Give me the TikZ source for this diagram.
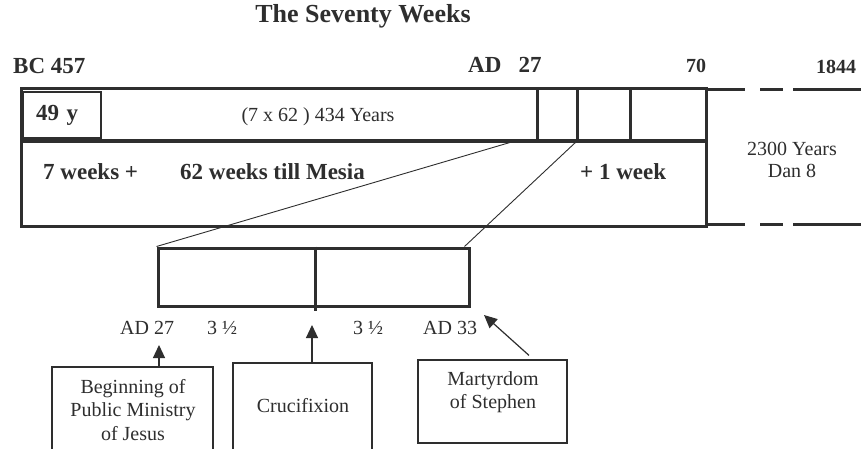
\documentclass[tikz,border=0pt]{standalone}
\usepackage{fontspec}
\setmainfont{Liberation Serif}
\usepackage{tikz}
\usetikzlibrary{positioning}
\usetikzlibrary{arrows.meta}

\definecolor{ink}{HTML}{2E2E2E}
\newcommand{\lbltitle}{\fontsize{26}{30}\selectfont\bfseries}
\newcommand{\lblbold}{\fontsize{23}{27}\selectfont\bfseries}
\newcommand{\lblsmallbold}{\fontsize{20}{24}\selectfont\bfseries}
\newcommand{\lblplain}{\fontsize{20}{23.5}\selectfont}

\begin{document}
\begin{tikzpicture}[x=1pt, y=-1pt,
    bar/.style = {draw=ink, line width=3pt},
    thin/.style = {draw=ink, line width=0.9pt},
    evbox/.style = {draw=ink, line width=1.2pt, inner sep=0pt},
    lbl/.style = {font=\lblplain, text=ink, inner sep=0pt},
    blbl/.style = {font=\lblbold, text=ink, inner sep=0pt},
    pointer/.style = {draw=ink, line width=1.2pt, -{Triangle[length=13pt,width=12pt]}}]

  \useasboundingbox[fill=white] (0,0) rectangle (861,448);

  % title and dates
  \node[font=\lbltitle, text=ink, inner sep=0pt, anchor=base](title) at (363,22){The Seventy Weeks};
  \node[blbl, anchor=base west](bc457) at (13,73){BC 457};
  \node[blbl, anchor=base west](ad27) at (468,72){AD\ \ \ 27};
  \node[blbl, font=\lblsmallbold, anchor=base](ad70) at (696,72){70};
  \node[blbl, font=\lblsmallbold, anchor=base](ad1844) at (836,73){1844};

  % the seventy weeks bar
  \draw[bar] (21,88) rectangle (706,226);
  \draw[draw=ink, line width=4pt] (21,141) -- (706,141);
  \foreach \x in {537,577,630} \draw[bar] (\x,88) -- (\x,141);
  \draw[bar, dash pattern=on 39pt off 15pt on 23pt off 10pt on 100pt] (706,89) -- (861,89);
  \draw[bar, dash pattern=on 39pt off 15pt on 23pt off 10pt on 100pt] (706,224) -- (861,224);
  \node[blbl, draw=ink, line width=2pt, text width=52pt, inner xsep=13pt, minimum height=46pt, align=left](box49) at (62,115){49 y};
  \node[lbl, anchor=base](years434) at (318,121){(7 x 62 ) 434 Years};
  \node[blbl, anchor=base west](weeks7) at (43,179){7 weeks +};
  \node[blbl, anchor=base west](weeks62) at (180,179){62 weeks till Mesia};
  \node[blbl, anchor=base west](week1) at (580,179){+ 1 week};
  \node[lbl, font=\fontsize{20}{22}\selectfont, align=center](years2300) at (792,160){2300 Years\\Dan 8};

  % last week blown up
  \coordinate (cut27) at (515,141);
  \coordinate (cut34) at (577,141);
  \node[evbox, line width=3pt, minimum width=311pt, minimum height=58pt](week) at (313.5,277){};
  \draw[thin] (cut27) -- (week.north west);
  \draw[thin] (cut34) -- ([xshift=-6pt]week.north east);
  \draw[bar] ([xshift=1.5pt]week.north) -- ([xshift=1.5pt,yshift=-3pt]week.south);

  \node[lbl, anchor=base west](lowad27) at (120,334){AD 27};
  \node[lbl, anchor=base west](half1) at (207,334){3 ½};
  \node[lbl, anchor=base west](half2) at (353,334){3 ½};
  \node[lbl, anchor=base west](lowad33) at (423,334){AD 33};

  % events
  \node[evbox, minimum width=161pt, minimum height=88pt](begin) at (132.5,411){};
  \node[lbl, align=center](begintext) at (133,410){Beginning of\\Public Ministry\\of Jesus};
  \node[evbox, minimum width=139pt, minimum height=89pt](cruc) at (302.5,407.5){};
  \node[lbl](cructext) at (303,406){Crucifixion};
  \node[evbox, minimum width=149pt, minimum height=83pt](martyr) at (492.5,401.5){};
  \node[lbl, align=center](martyrtext) at (493,392){Martyrdom\\of Stephen};

  \coordinate (tipbegin) at (159,345);
  \coordinate (tipcruc) at (312,325);
  \coordinate (tipmartyr) at (484,315);
  \draw[pointer] (begin.north -| tipbegin) -- (tipbegin);
  \draw[pointer] (cruc.north -| tipcruc) -- (tipcruc);
  \draw[pointer] ([xshift=36.5pt,yshift=4pt]martyr.north) -- (tipmartyr);
\end{tikzpicture}
\end{document}
